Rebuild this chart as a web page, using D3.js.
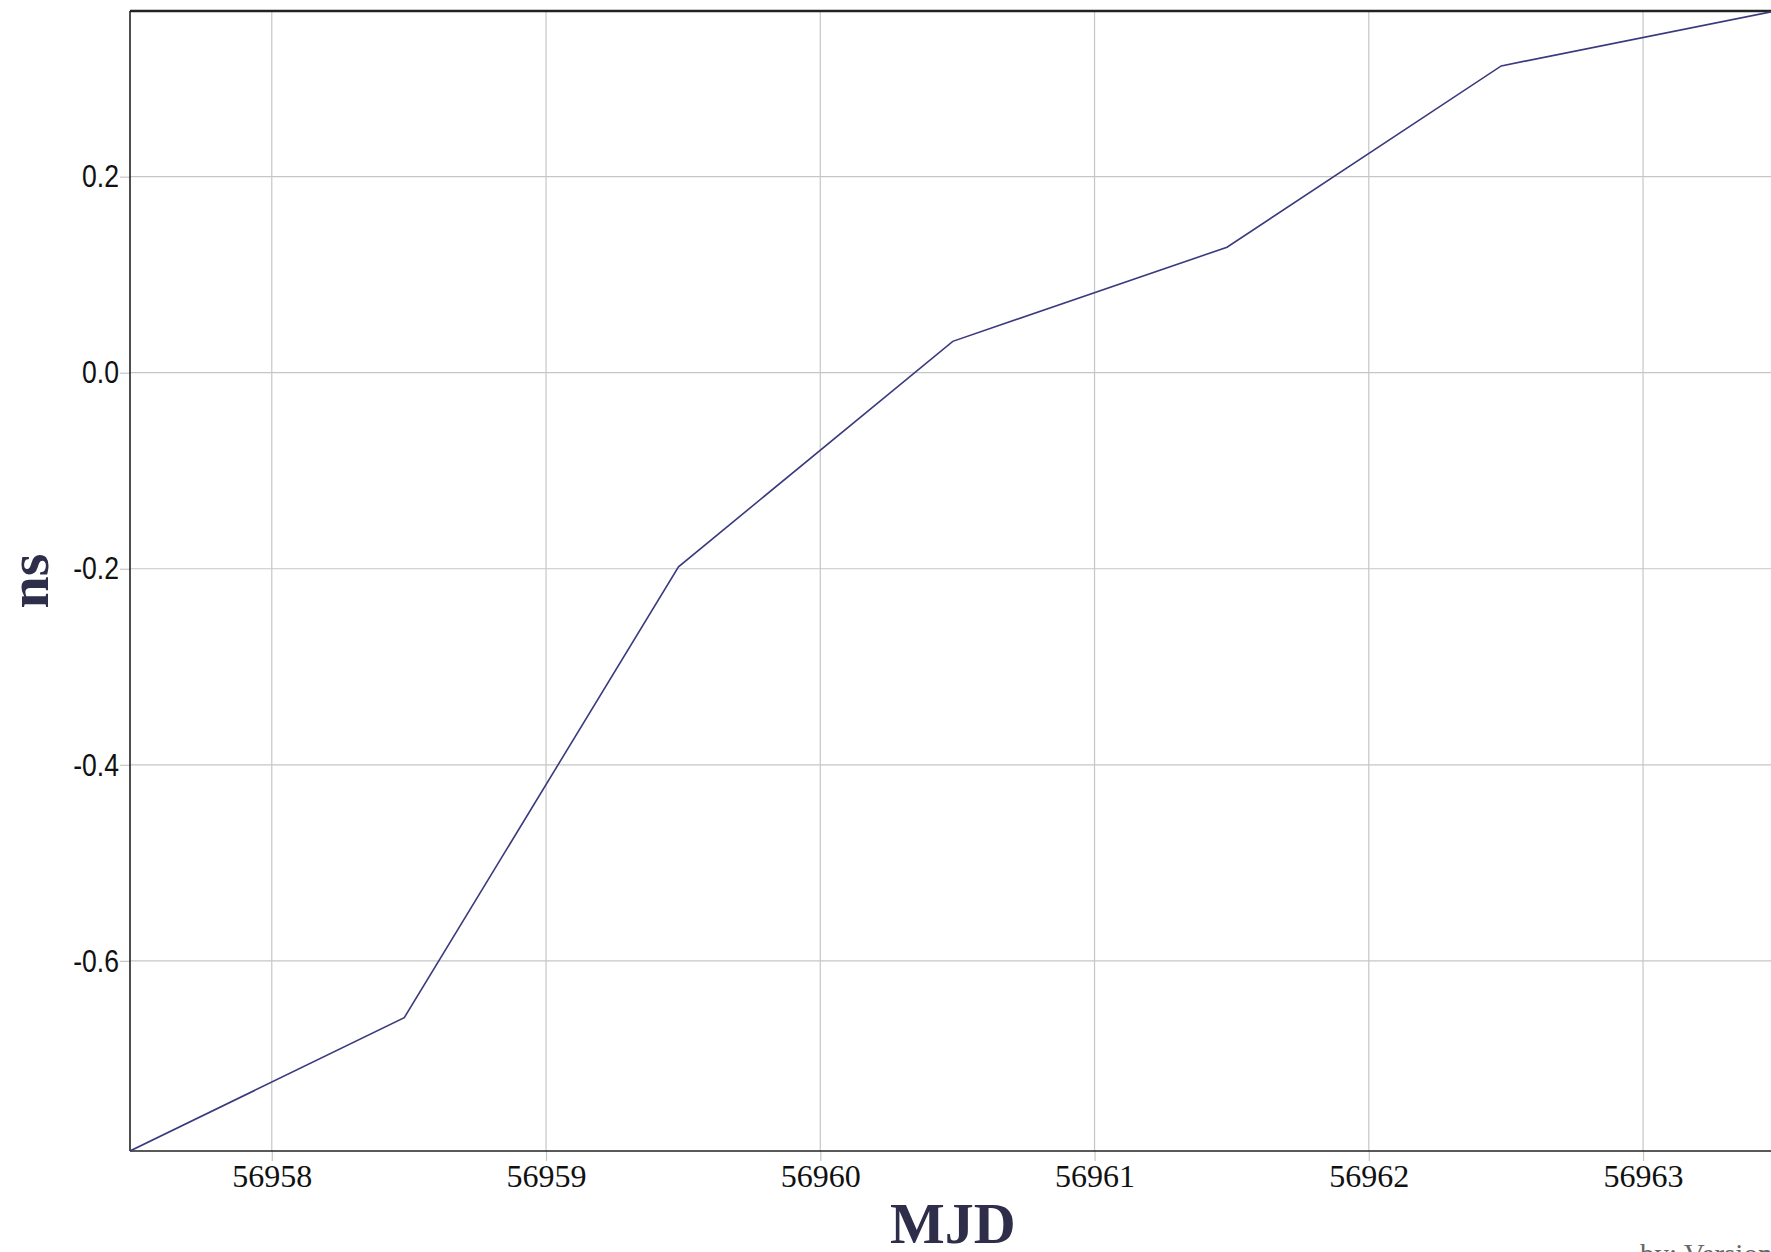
<!DOCTYPE html>
<html>
<head>
<meta charset="utf-8">
<script src="https://cdn.jsdelivr.net/npm/d3@7"></script>
<style>
  html, body { margin: 0; padding: 0; background: #fff; overflow: hidden; }
  svg { display: block; }
</style>
</head>
<body>
<svg id="chart" width="1771" height="1252"></svg>
<script>
// ---- data ----
const mjd = [56957.483, 56958.483, 56959.483, 56960.483, 56961.483, 56962.483, 56963.483];
const ns  = [-0.794, -0.658, -0.198, 0.032, 0.128, 0.313, 0.369];
const xTicks = [56958, 56959, 56960, 56961, 56962, 56963];
const yTicks = [-0.6, -0.4, -0.2, 0.0, 0.2];
const xTitle = "MJD";
const yTitle = "ns";
const footer = "by:  Version";

(function () {
// ---- layout ----
const pL = 130, pT = 11, pB = 1151, pR = 1775.5;
const svg = d3.select("#chart");

const x = d3.scaleLinear().domain([56957.483, 56963.483]).range([pL, pR]);
const y = d3.scaleLinear().domain([-0.794, 0.369]).range([pB, pT]);

svg.append("defs").append("clipPath").attr("id", "plotclip")
  .append("rect").attr("x", pL).attr("y", pT - 2)
  .attr("width", pR - pL + 4).attr("height", pB - pT + 4);

// grid
const grid = svg.append("g").attr("stroke", "#c6c6c6").attr("stroke-width", 1.2);
grid.selectAll("line.vx").data(xTicks).join("line")
  .attr("x1", d => x(d)).attr("x2", d => x(d))
  .attr("y1", pT).attr("y2", pB);
grid.selectAll("line.hy").data(yTicks).join("line")
  .attr("y1", d => y(d)).attr("y2", d => y(d))
  .attr("x1", pL).attr("x2", pR + 10);

// axes
const fmtY = d => d3.format(".1f")(d).replace("\u2212", "-");
const yAxis = svg.append("g").attr("transform", `translate(${pL},0)`)
  .call(d3.axisLeft(y).tickValues(yTicks).tickSize(10).tickPadding(1).tickFormat(fmtY));
yAxis.select(".domain").remove();
yAxis.selectAll(".tick line").attr("stroke", "#c6c6c6").attr("stroke-width", 1.2);
yAxis.selectAll(".tick text")
  .attr("fill", "#111")
  .style("font-family", "'Liberation Sans', Arial, sans-serif")
  .style("font-size", "32px")
  .each(function () {
    const w = this.getComputedTextLength();
    d3.select(this).attr("textLength", w * 0.83).attr("lengthAdjust", "spacingAndGlyphs");
  });

const xAxis = svg.append("g").attr("transform", `translate(0,${pB})`)
  .call(d3.axisBottom(x).tickValues(xTicks).tickSize(10).tickPadding(3).tickFormat(d3.format("d")));
xAxis.select(".domain").remove();
xAxis.selectAll(".tick line").attr("stroke", "#c6c6c6").attr("stroke-width", 1.2);
xAxis.selectAll(".tick text")
  .attr("fill", "#111")
  .style("font-family", "'Liberation Serif', 'Times New Roman', serif")
  .style("font-size", "32px");

// frame
svg.append("line").attr("x1", pL).attr("x2", pL).attr("y1", pT).attr("y2", pB)
  .attr("stroke", "#222").attr("stroke-width", 1.6);
svg.append("line").attr("x1", pL).attr("x2", 1771).attr("y1", pB).attr("y2", pB)
  .attr("stroke", "#222").attr("stroke-width", 1.6);
svg.append("line").attr("x1", pL).attr("x2", 1771).attr("y1", pT).attr("y2", pT)
  .attr("stroke", "#222").attr("stroke-width", 2.4);

// series line
const line = d3.line().x((d, i) => x(mjd[i])).y(d => y(d));
svg.append("path").datum(ns)
  .attr("clip-path", "url(#plotclip)")
  .attr("fill", "none")
  .attr("stroke", "#3a3a7e")
  .attr("stroke-width", 1.6)
  .attr("d", line);

// titles
svg.append("text").attr("x", (pL + pR) / 2).attr("y", 1243)
  .attr("text-anchor", "middle")
  .attr("fill", "#2e2e4a")
  .style("font-family", "'Liberation Serif', 'Times New Roman', serif")
  .style("font-weight", "bold").style("font-size", "58px")
  .text(xTitle);

svg.append("text").attr("transform", `translate(48,${(pT + pB) / 2}) rotate(-90)`)
  .attr("text-anchor", "middle")
  .attr("fill", "#2e2e4a")
  .style("font-family", "'Liberation Serif', 'Times New Roman', serif")
  .style("font-weight", "bold").style("font-size", "58px")
  .text(yTitle);

svg.append("text").attr("x", 1640).attr("y", 1264)
  .attr("fill", "#666")
  .style("font-family", "'Liberation Serif', 'Times New Roman', serif")
  .style("font-size", "29px")
  .text(footer);
})();
</script>
</body>
</html>
